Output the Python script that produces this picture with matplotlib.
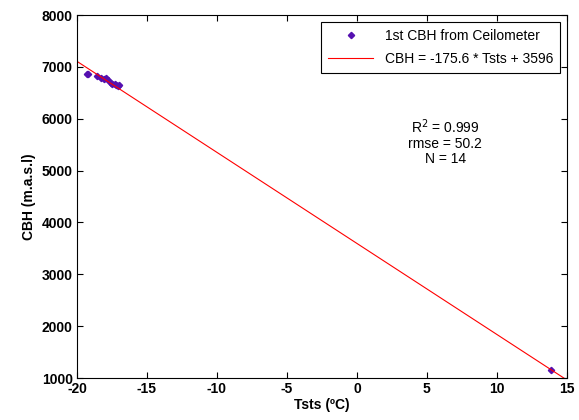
import numpy as np
import matplotlib.pyplot as plt

plt.rcParams['font.family'] = ['Liberation Sans', 'DejaVu Sans']
plt.rcParams['axes.unicode_minus'] = False

# 1st CBH from ceilometer vs Tsts
tsts = [-19.3, -19.2, -18.6, -18.3, -18.1, -17.9, -17.8, -17.6, -17.5, -17.3, -17.2, -17.1, -17.0, 13.9]
cbh = [6860, 6870, 6820, 6790, 6770, 6780, 6740, 6700, 6680, 6670, 6660, 6640, 6650, 1160]

slope = -175.6
intercept = 3596
fit_x = [-20, 15]

fig = plt.figure(figsize=(5.79, 4.2), dpi=100)
ax = fig.add_axes([0.133, 0.1, 0.846, 0.864])

ax.plot(tsts, cbh, 'D', color='#5510B0', markersize=3.2, linestyle='none',
        label='1st CBH from Ceilometer')
fx = np.array(fit_x)
ax.plot(fx, slope * fx + intercept, color='red', linewidth=0.8,
        label='CBH = -175.6 * Tsts + 3596')

ax.set_xlim(-20, 15)
ax.set_ylim(1000, 8000)
ax.set_xticks(range(-20, 16, 5))
ax.set_yticks(range(1000, 8001, 1000))
ax.tick_params(direction='in', top=True, right=True, length=4, width=0.8,
               labelsize=10, pad=3)
for lbl in ax.get_xticklabels() + ax.get_yticklabels():
    lbl.set_fontweight('bold')

ax.set_xlabel('Tsts (ºC)', fontweight='bold', fontsize=10, labelpad=1)
ax.set_ylabel('CBH (m.a.s.l)', fontweight='bold', fontsize=10, labelpad=4)

ax.text(6.3, 5560, 'R$^2$ = 0.999\nrmse = 50.2\nN = 14', ha='center', va='center',
        fontsize=10, linespacing=1.1)

leg = ax.legend(loc='upper right', fontsize=10, fancybox=False, framealpha=1,
                edgecolor='black', borderaxespad=0.5, handlelength=3.3,
                labelspacing=0.65, borderpad=0.5)
leg.get_frame().set_linewidth(0.8)

fig.savefig('out.png', dpi=100)
